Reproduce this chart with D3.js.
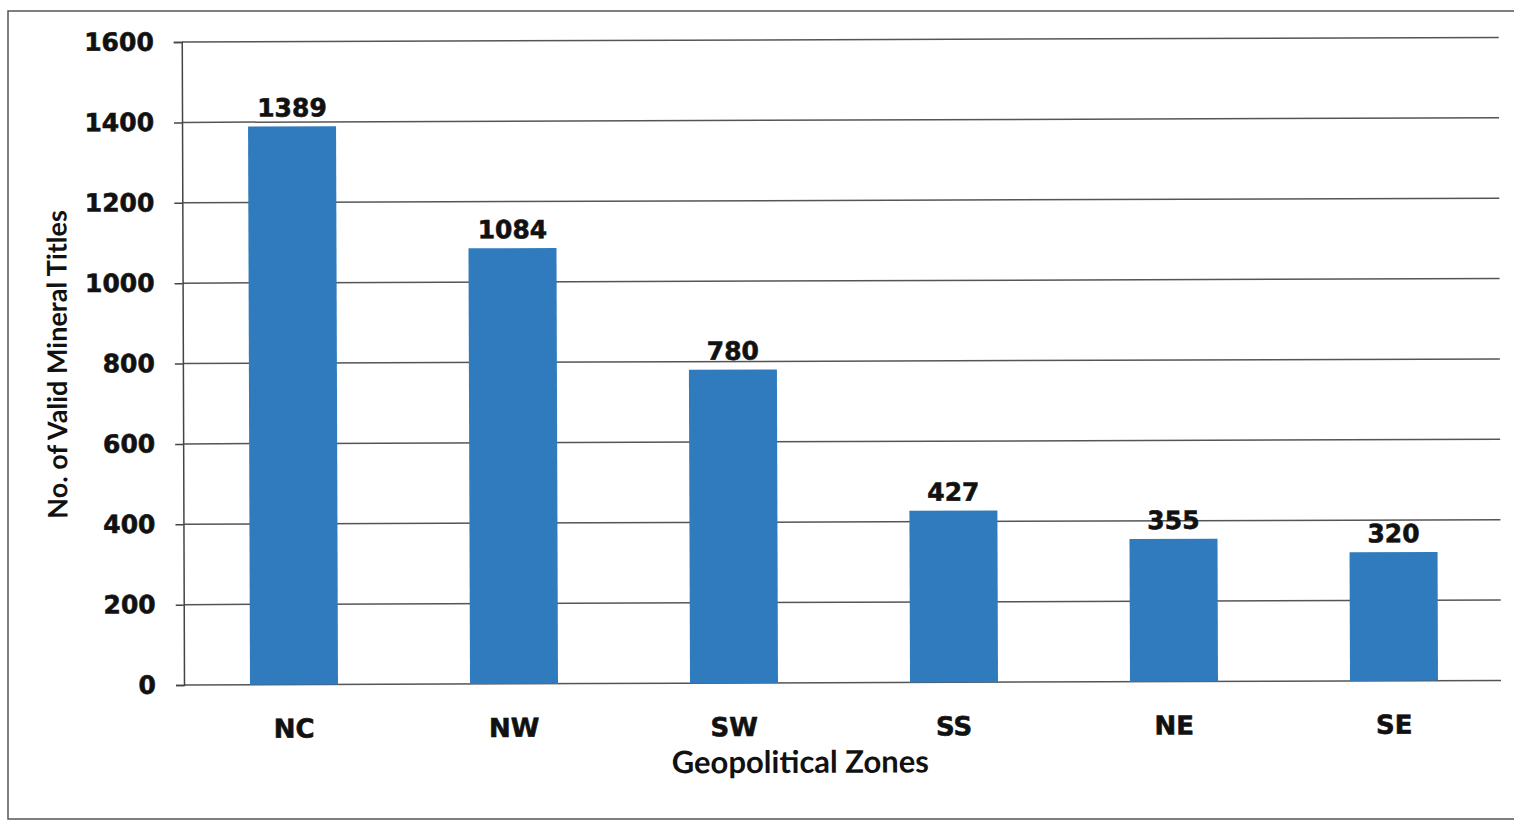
<!DOCTYPE html>
<html>
<head>
<meta charset="utf-8">
<script src="https://cdn.jsdelivr.net/npm/d3@7"></script>
<style>
  body { margin: 0; background: #fff; }
  svg { display: block; }
</style>
</head>
<body>
<svg id="chart"></svg>
<script>
// chart data
const zones = ['NC', 'NW', 'SW', 'SS', 'NE', 'SE'];
const titles = [1389, 1084, 780, 427, 355, 320];
const yTicks = [0, 200, 400, 600, 800, 1000, 1200, 1400, 1600];

const width = 1514, height = 825;
const margin = { top: 42, right: 13, bottom: 140, left: 184 };

const heavy = 'DejaVu Sans, Arial Black, sans-serif';

const svg = d3.select('#chart')
    .attr('width', width)
    .attr('height', height);

// outer frame of the scanned figure
svg.append('rect')
    .attr('x', 8).attr('y', 11)
    .attr('width', 1510).attr('height', 808)
    .attr('fill', 'none')
    .attr('stroke', '#555')
    .attr('stroke-width', 1.5);

// the scan is slightly tilted
const g = svg.append('g')
    .attr('transform', `rotate(-0.2, ${margin.left}, ${height - margin.bottom})`);

const x = d3.scaleBand()
    .domain(zones)
    .range([margin.left, 1504])
    .paddingInner(0.6)
    .paddingOuter(0.3);

const y = d3.scaleLinear()
    .domain([0, 1600])
    .range([height - margin.bottom, margin.top]);

// gridlines
g.append('g')
    .selectAll('line')
    .data(yTicks)
    .join('line')
    .attr('x1', margin.left)
    .attr('x2', width - margin.right)
    .attr('y1', d => y(d))
    .attr('y2', d => y(d))
    .attr('stroke', '#555')
    .attr('stroke-width', 1.5);

// y axis
const yAxis = g.append('g')
    .attr('transform', `translate(${margin.left},0)`)
    .call(d3.axisLeft(y).tickValues(yTicks).tickFormat(d3.format('d')).tickSize(8).tickPadding(20));

yAxis.select('.domain').attr('stroke', '#444').attr('stroke-width', 1.5);
yAxis.selectAll('.tick line').attr('stroke', '#444').attr('stroke-width', 1.5);
yAxis.selectAll('.tick text')
    .attr('font-family', heavy)
    .attr('font-weight', 'bold')
    .attr('font-size', '25px')
    .attr('fill', '#111')
    .attr('stroke', '#111')
    .attr('stroke-width', 0.6);

// bars
g.selectAll('rect.bar')
    .data(zones)
    .join('rect')
    .attr('class', 'bar')
    .attr('x', d => x(d))
    .attr('width', x.bandwidth())
    .attr('y', (d, i) => y(titles[i]))
    .attr('height', (d, i) => y(0) - y(titles[i]))
    .attr('fill', '#2f7bbd');

// value labels
g.selectAll('text.val')
    .data(zones)
    .join('text')
    .attr('class', 'val')
    .attr('x', d => x(d) + x.bandwidth() / 2)
    .attr('y', (d, i) => y(titles[i]) - 10)
    .attr('text-anchor', 'middle')
    .attr('font-family', heavy)
    .attr('font-weight', 'bold')
    .attr('font-size', '25px')
    .attr('fill', '#111')
    .attr('stroke', '#111')
    .attr('stroke-width', 0.6)
    .text((d, i) => titles[i]);

// category labels
g.selectAll('text.cat')
    .data(zones)
    .join('text')
    .attr('class', 'cat')
    .attr('x', d => x(d) + x.bandwidth() / 2)
    .attr('y', y(0) + 53)
    .attr('text-anchor', 'middle')
    .attr('font-family', heavy)
    .attr('font-weight', 'bold')
    .attr('font-size', '26px')
    .attr('fill', '#111')
    .attr('stroke', '#111')
    .attr('stroke-width', 0.6)
    .text(d => d);

// axis titles
g.append('text')
    .attr('x', 800)
    .attr('y', 775)
    .attr('text-anchor', 'middle')
    .attr('font-family', 'Lato, sans-serif')
    .attr('font-weight', 'bold')
    .attr('font-size', '31px')
    .attr('fill', '#111')
    .text('Geopolitical Zones');

g.append('text')
    .attr('transform', 'translate(68,364) rotate(-90)')
    .attr('text-anchor', 'middle')
    .attr('font-family', 'Lato, sans-serif')
    .attr('font-weight', 'bold')
    .attr('font-size', '27px')
    .attr('fill', '#111')
    .text('No. of Valid Mineral Titles');
</script>
</body>
</html>
